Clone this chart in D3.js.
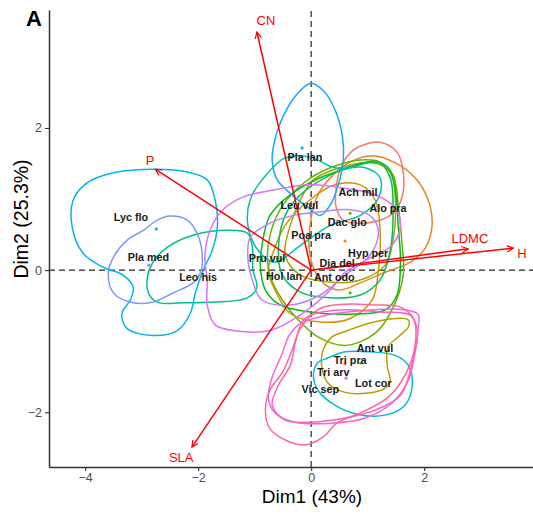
<!DOCTYPE html>
<html>
<head>
<meta charset="utf-8">
<script src="https://cdnjs.cloudflare.com/ajax/libs/d3/7.8.5/d3.min.js"></script>
<style>
body { margin: 0; background: #fff; }
svg { display: block; font-family: "Liberation Sans", Arial, sans-serif; }
</style>
</head>
<body>
<svg id="chart" width="533" height="519"></svg>
<script>

// species (factor levels) and their hue colours
var species = ["Ach mil", "Alo pra", "Ant odo", "Ant vul", "Dac glo", "Dia del", "Hol lan", "Hyp per",
	"Leo his", "Leu vul", "Lot cor", "Lyc flo", "Pla lan", "Pla med", "Poa pra", "Pru vul",
	"Tri arv", "Tri pra", "Vic sep"];
var speciesColors = ["#F8766D", "#E88526", "#D59100", "#BB9D00", "#9AA800", "#6BB100", "#0CB71D", "#00BD5F",
	"#00C08E", "#00C0B2", "#00BCD4", "#00B4EF", "#14A7FF", "#7C96FF", "#B983FF", "#E16FF7",
	"#F864DE", "#FF61C0", "#FF6895"];

// contour outline of each species (Dim1, Dim2), same order as species
var contours = [
	[[0.92,1.76],[1.22,1.80],[1.52,1.66],[1.63,1.38],[1.61,1.03],[1.45,0.80],[1.17,0.69],[0.87,0.66],[0.57,0.70],[0.44,0.89],[0.44,1.13],[0.51,1.41],[0.69,1.65]],
	[[0.69,1.52],[1.08,1.61],[1.49,1.51],[1.84,1.30],[2.07,0.99],[2.14,0.63],[2.02,0.31],[1.75,0.11],[1.31,-0.03],[0.87,-0.18],[0.48,-0.28],[0.16,-0.14],[-0.02,0.21],[-0.02,0.63],[0.12,1.06],[0.39,1.34]],
	[[-0.69,0.21],[-0.46,0.63],[-0.02,0.99],[0.42,1.20],[0.87,1.20],[1.13,0.99],[1.22,0.56],[1.19,0],[1.08,-0.42],[0.69,-0.68],[0.16,-0.73],[-0.37,-0.61],[-0.64,-0.28],[-0.76,0]],
	[[0.37,-0.94],[0.65,-0.85],[1.01,-0.75],[1.49,-0.68],[1.72,-0.70],[1.72,-0.80],[1.54,-0.94],[1.36,-1.08],[1.35,-1.37],[1.40,-1.55],[1.31,-1.66],[1.01,-1.73],[0.60,-1.72],[0.30,-1.59],[0.19,-1.37],[0.21,-1.13]],
	[[0.04,1.27],[0.51,1.44],[1.08,1.51],[1.40,1.38],[1.49,0.99],[1.45,0.42],[1.31,0.07],[0.87,-0.14],[0.34,-0.17],[-0.19,-0.07],[-0.46,0.21],[-0.37,0.63],[-0.19,0.99]],
	[[-0.11,1.24],[0.34,1.44],[0.87,1.55],[1.22,1.52],[1.45,1.34],[1.54,0.92],[1.61,0.35],[1.63,-0.07],[1.43,-0.56],[1.13,-0.89],[0.60,-1.06],[0.12,-0.94],[-0.23,-0.70],[-0.51,-0.42],[-0.73,-0.07],[-0.76,0.35],[-0.55,0.85]],
	[[-0.87,0.35],[-0.73,0.77],[-0.37,1.06],[0.16,1.30],[0.69,1.44],[1.13,1.52],[1.36,1.44],[1.49,1.13],[1.54,0.63],[1.58,0.14],[1.52,-0.35],[1.31,-0.56],[0.69,-0.62],[-0.02,-0.59],[-0.55,-0.49],[-0.81,-0.28],[-0.90,0.07]],
	[[-0.46,0.77],[-0.19,1.06],[0.34,1.34],[0.78,1.48],[1.19,1.52],[1.40,1.30],[1.45,0.85],[1.40,0.28],[1.22,-0.14],[0.87,-0.35],[0.34,-0.39],[-0.19,-0.31],[-0.51,-0.07],[-0.58,0.28]],
	[[-2.88,-0.32],[-2.90,-0.11],[-2.81,0.10],[-2.55,0.32],[-2.09,0.49],[-1.49,0.56],[-1.13,0.52],[-1.04,0.32],[-1.03,0],[-0.96,-0.24],[-1.13,-0.39],[-1.73,-0.45],[-2.27,-0.46],[-2.73,-0.45]],
	[[-1.08,0.99],[-0.87,1.27],[-0.46,1.58],[-0.02,1.59],[0.42,1.44],[0.96,1.44],[1.22,1.30],[1.19,1.01],[0.87,0.77],[0.34,0.63],[-0.19,0.35],[-0.64,0.11],[-0.94,0.28],[-1.12,0.63]],
	[[0.28,-1.24],[0.60,-1.15],[1.04,-1.15],[1.49,-1.20],[1.72,-1.34],[1.79,-1.62],[1.66,-1.90],[1.31,-2.04],[0.83,-2.03],[0.42,-1.90],[0.12,-1.69],[0.04,-1.48],[0.12,-1.30]],
	[[-2.76,1.42],[-2.19,1.38],[-1.84,1.27],[-1.70,0.99],[-1.66,0.61],[-1.75,0.28],[-1.91,0],[-2.05,-0.32],[-2.14,-0.61],[-2.37,-0.85],[-2.80,-0.92],[-3.26,-0.82],[-3.35,-0.61],[-3.20,-0.42],[-3.15,-0.24],[-3.33,-0.07],[-3.68,0.04],[-4.04,0.24],[-4.23,0.61],[-4.21,0.99],[-3.96,1.23],[-3.50,1.37]],
	[[0,2.63],[0.22,2.52],[0.42,2.26],[0.55,1.90],[0.57,1.55],[0.48,1.20],[0.34,0.92],[0.16,0.77],[-0.07,0.89],[-0.37,1.08],[-0.60,1.27],[-0.69,1.55],[-0.62,1.90],[-0.42,2.28],[-0.20,2.52]],
	[[-2.50,0.76],[-2.19,0.70],[-2.02,0.52],[-1.93,0.24],[-1.96,-0.04],[-2.09,-0.18],[-2.44,-0.32],[-2.80,-0.45],[-3.15,-0.46],[-3.50,-0.32],[-3.59,-0.04],[-3.50,0.18],[-3.26,0.42],[-2.97,0.56],[-2.73,0.70]],
	[[-1.08,0.46],[-0.81,0.63],[-0.37,0.76],[0.16,0.82],[0.69,0.85],[1.04,0.77],[1.19,0.54],[1.04,0.21],[0.60,-0.07],[0.16,-0.35],[-0.37,-0.49],[-0.87,-0.42],[-1.04,-0.14],[-1.12,0.17]],
	[[-1.88,0.18],[-1.79,0.56],[-1.56,0.85],[-1.20,1.03],[-0.64,1.13],[-0.02,1.20],[0.60,1.15],[1.13,1.06],[1.49,0.87],[1.58,0.63],[1.43,0.35],[1.04,0.17],[0.60,-0.03],[0.34,-0.28],[-0.19,-0.63],[-0.73,-0.85],[-1.26,-0.86],[-1.70,-0.77],[-1.84,-0.49],[-1.84,-0.14]],
	[[-0.19,-0.75],[0.19,-0.65],[0.78,-0.58],[1.54,-0.55],[1.89,-0.62],[1.89,-0.85],[1.84,-1.15],[1.72,-1.55],[1.43,-1.87],[0.96,-2.08],[0.42,-2.15],[-0.28,-2.14],[-0.64,-2.01],[-0.76,-1.79],[-0.69,-1.51],[-0.51,-1.17],[-0.39,-0.92]],
	[[-0.11,-0.68],[0.51,-0.56],[1.22,-0.59],[1.75,-0.63],[1.88,-0.85],[1.79,-1.30],[1.58,-1.76],[1.13,-1.97],[0.60,-2.08],[-0.02,-2.14],[-0.46,-2.11],[-0.69,-1.90],[-0.58,-1.62],[-0.37,-1.34],[-0.27,-0.99]],
	[[0.16,-0.54],[0.60,-0.48],[1.13,-0.49],[1.58,-0.52],[1.81,-0.68],[1.84,-1.06],[1.66,-1.48],[1.36,-1.79],[0.90,-2.00],[0.46,-2.15],[0.21,-2.35],[-0.11,-2.46],[-0.46,-2.39],[-0.73,-2.23],[-0.81,-1.97],[-0.73,-1.69],[-0.51,-1.44],[-0.34,-1.13],[-0.19,-0.82]]
];

// species mean points (only where visible) and label positions
var dotX = [null, 0.60, null, 0.88, 0.69, 0.69, null, null, null, null, null, -2.74, -0.16, -2.87, null, null, 0.62, 0.60, null];
var dotY = [null, 0.41, null, -1.31, 0.80, -0.32, null, null, null, null, null, 0.58, 1.72, 0.07, null, null, -1.52, -1.32, null];
var labelX = [0.83, 1.36, 0.41, 1.13, 0.64, 0.46, -0.48, 1.01, -2.00, -0.21, 1.10, -3.19, -0.11, -2.88, 0.00, -0.78, 0.39, 0.69, 0.16];
var labelY = [1.10, 0.87, -0.10, -1.10, 0.68, 0.10, -0.08, 0.24, -0.10, 0.92, -1.59, 0.75, 1.59, 0.18, 0.49, 0.17, -1.44, -1.27, -1.68];

// trait loadings
var traits = ["CN", "P", "LDMC", "H", "SLA"];
var traitX = [-0.96, -2.76, 2.78, 3.58, -2.11];
var traitY = [3.35, 1.42, 0.30, 0.31, -2.49];
var traitLabelX = [-0.80, -2.85, 2.81, 3.73, -2.30];
var traitLabelY = [3.52, 1.55, 0.45, 0.24, -2.63];

var xTicks = [-4, -2, 0, 2];
var yTicks = [-2, 0, 2];

var svg = d3.select("#chart");

var x = d3.scaleLinear().domain([-4.64, 4.67]).range([49, 575]);
var y = d3.scaleLinear().domain([-2.77, 3.66]).range([467, 10]);

//dashed zero lines
svg.append("line")
	.attr("x1", x.range()[0]).attr("x2", x.range()[1])
	.attr("y1", y(0)).attr("y2", y(0))
	.attr("stroke", "#222").attr("stroke-width", 1.2).attr("stroke-dasharray", "6,4");
svg.append("line")
	.attr("x1", x(0)).attr("x2", x(0))
	.attr("y1", y.range()[0]).attr("y2", y.range()[1])
	.attr("stroke", "#222").attr("stroke-width", 1.2).attr("stroke-dasharray", "6,4");

//species contours
var outline = d3.line()
	.x(function(d) { return x(d[0]); })
	.y(function(d) { return y(d[1]); })
	.curve(d3.curveCatmullRomClosed.alpha(0.5));

svg.selectAll(".contour")
	.data(contours)
	.enter().append("path")
	.attr("class", "contour")
	.attr("d", outline)
	.attr("fill", "none")
	.attr("stroke", function(d, i) { return speciesColors[i]; })
	.attr("stroke-width", 1.5);

svg.selectAll(".dot")
	.data(species.filter(function(s, i) { return dotX[i] != null; }))
	.enter().append("circle")
	.attr("class", "dot")
	.attr("cx", function(s) { return x(dotX[species.indexOf(s)]); })
	.attr("cy", function(s) { return y(dotY[species.indexOf(s)]); })
	.attr("r", 1.6)
	.attr("fill", function(s) { return speciesColors[species.indexOf(s)]; });

//trait arrows
svg.append("defs").append("marker")
	.attr("id", "head")
	.attr("viewBox", "0 0 10 10")
	.attr("refX", 9).attr("refY", 5)
	.attr("markerWidth", 8).attr("markerHeight", 8)
	.attr("markerUnits", "userSpaceOnUse")
	.attr("orient", "auto")
	.append("path")
	.attr("d", "M1,1 L9,5 L1,9")
	.attr("fill", "none")
	.attr("stroke", "red")
	.attr("stroke-width", 1.5);

svg.selectAll(".arrow")
	.data(traits)
	.enter().append("line")
	.attr("class", "arrow")
	.attr("x1", x(0)).attr("y1", y(0))
	.attr("x2", function(d, i) { return x(traitX[i]); })
	.attr("y2", function(d, i) { return y(traitY[i]); })
	.attr("stroke", "red")
	.attr("stroke-width", 1.5)
	.attr("marker-end", "url(#head)");

svg.selectAll(".traitLabel")
	.data(traits)
	.enter().append("text")
	.attr("class", "traitLabel")
	.attr("x", function(d, i) { return x(traitLabelX[i]); })
	.attr("y", function(d, i) { return y(traitLabelY[i]); })
	.attr("dy", "0.35em")
	.attr("text-anchor", "middle")
	.attr("font-size", "13px")
	.attr("fill", "red")
	.text(function(d) { return d; });

//species labels
svg.selectAll(".spLabel")
	.data(species)
	.enter().append("text")
	.attr("class", "spLabel")
	.attr("x", function(d, i) { return x(labelX[i]); })
	.attr("y", function(d, i) { return y(labelY[i]); })
	.attr("dy", "0.35em")
	.attr("text-anchor", "middle")
	.attr("font-size", "10.8px")
	.attr("font-weight", "bold")
	.attr("fill", "#1a1a1a")
	.text(function(d) { return d; });

//axes
var xAxis = svg.append("g")
	.attr("transform", "translate(0," + y.range()[0] + ")")
	.call(d3.axisBottom(x).tickValues(xTicks).tickFormat(d3.format("d"))
		.tickSize(4).tickSizeOuter(0).tickPadding(2));
var yAxis = svg.append("g")
	.attr("transform", "translate(" + x.range()[0] + ",0)")
	.call(d3.axisLeft(y).tickValues(yTicks).tickFormat(d3.format("d"))
		.tickSize(4).tickSizeOuter(0).tickPadding(3));

[xAxis, yAxis].forEach(function(g) {
	g.select(".domain").attr("stroke", "#333").attr("stroke-width", 1.5);
	g.selectAll(".tick line").attr("stroke", "#333").attr("stroke-width", 1.1);
	g.selectAll(".tick text")
		.attr("fill", "#4d4d4d")
		.attr("font-size", "12.5px")
		.attr("font-family", "Liberation Sans, Arial, sans-serif");
});

//axis titles and panel tag
svg.append("text")
	.attr("x", 312).attr("y", 503)
	.attr("text-anchor", "middle")
	.attr("font-size", "19px")
	.text("Dim1 (43%)");
svg.append("text")
	.attr("transform", "translate(28,219) rotate(-90)")
	.attr("text-anchor", "middle")
	.attr("font-size", "19.5px")
	.text("Dim2 (25.3%)");
svg.append("text")
	.attr("x", 26).attr("y", 26)
	.attr("font-size", "22px")
	.attr("font-weight", "bold")
	.text("A");

</script>
</body>
</html>
